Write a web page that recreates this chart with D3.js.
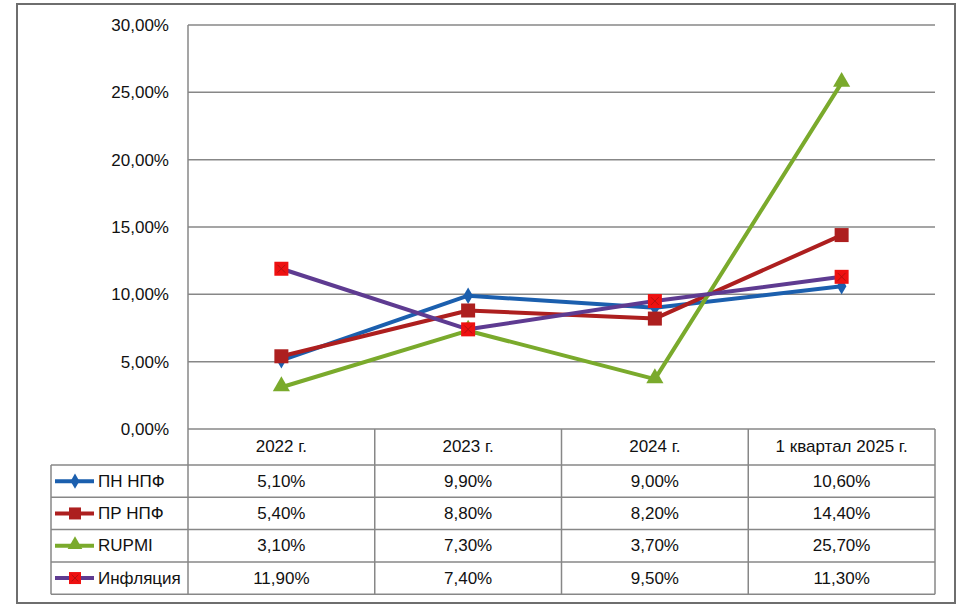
<!DOCTYPE html>
<html>
<head>
<meta charset="utf-8">
<script src="https://cdn.jsdelivr.net/npm/d3@7"></script>
<style>
  html, body { margin: 0; padding: 0; background: #fff; }
  svg { display: block; }
  text { font-family: "Liberation Sans", Arial, sans-serif; fill: #111; }
</style>
</head>
<body>
<svg id="chart" width="973" height="609"></svg>
<script>
const categories = ["2022 г.", "2023 г.", "2024 г.", "1 квартал 2025 г."];
const seriesNames = ["ПН НПФ", "ПР НПФ", "RUPMI", "Инфляция"];
const pnNpf = [5.10, 9.90, 9.00, 10.60];
const prNpf = [5.40, 8.80, 8.20, 14.40];
const rupmi = [3.10, 7.30, 3.70, 25.70];
const inflation = [11.90, 7.40, 9.50, 11.30];
const yTicks = [0, 5, 10, 15, 20, 25, 30];

const series = [
  { name: seriesNames[0], values: pnNpf, line: "#1b5fae", marker: "diamond", fill: "#1b5fae" },
  { name: seriesNames[1], values: prNpf, line: "#ad1f1f", marker: "square", fill: "#ad1f1f" },
  { name: seriesNames[2], values: rupmi, line: "#7aaa2c", marker: "triangle", fill: "#7aaa2c" },
  { name: seriesNames[3], values: inflation, line: "#5e3b91", marker: "xsquare", fill: "#ee1111" }
];

const svg = d3.select("#chart");
const grid = "#878787";
const fmt = v => d3.format(".2f")(v).replace(".", ",") + "%";

// outer frame
svg.append("rect").attr("x", 17).attr("y", 4).attr("width", 938).attr("height", 599)
  .attr("fill", "#fff").attr("stroke", "#6e6e6e").attr("stroke-width", 2);

const pLeft = 188, pRight = 935, pTop = 25, pBottom = 429;
const x = d3.scaleBand().domain(categories).range([pLeft, pRight]);
const y = d3.scaleLinear().domain([0, 30]).range([pBottom, pTop]);

// gridlines
svg.append("g").selectAll("line").data(yTicks).join("line")
  .attr("x1", pLeft).attr("x2", pRight)
  .attr("y1", d => y(d)).attr("y2", d => y(d))
  .attr("stroke", grid).attr("stroke-width", 1.5);

// y axis via d3.axisLeft (labels only)
const yAxis = svg.append("g").attr("transform", `translate(${pLeft},0)`)
  .call(d3.axisLeft(y).tickValues(yTicks).tickFormat(d => fmt(d)).tickSize(0).tickPadding(19));
yAxis.select(".domain").remove();
yAxis.selectAll("text").attr("font-size", 17).attr("fill", "#111")
  .style("font-family", '"Liberation Sans", Arial, sans-serif');

// table geometry
const headerBottom = 465;
const rowH = 32.3;
const tableLeft = 51;
const rowY = i => headerBottom + i * rowH;
const tableBottom = rowY(series.length);

// vertical plot axis line
svg.append("line").attr("x1", pLeft).attr("x2", pLeft).attr("y1", pTop).attr("y2", tableBottom)
  .attr("stroke", grid).attr("stroke-width", 1.5);

// table vertical lines
const colEdges = categories.map(c => x(c) + x.bandwidth());
svg.append("g").selectAll("line").data(colEdges).join("line")
  .attr("x1", d => d).attr("x2", d => d).attr("y1", pBottom).attr("y2", tableBottom)
  .attr("stroke", grid).attr("stroke-width", 1.5);
svg.append("line").attr("x1", tableLeft).attr("x2", tableLeft).attr("y1", headerBottom).attr("y2", tableBottom)
  .attr("stroke", grid).attr("stroke-width", 1.5);

// table horizontal lines
const hLines = d3.range(series.length + 1).map(rowY);
svg.append("g").selectAll("line").data(hLines).join("line")
  .attr("x1", tableLeft).attr("x2", pRight).attr("y1", d => d).attr("y2", d => d)
  .attr("stroke", grid).attr("stroke-width", 1.5);

// header labels
svg.append("g").selectAll("text").data(categories).join("text")
  .attr("x", d => x(d) + x.bandwidth() / 2).attr("y", (pBottom + headerBottom) / 2 + 1)
  .attr("text-anchor", "middle").attr("dominant-baseline", "middle")
  .attr("font-size", 17).text(d => d);

// marker drawing
function drawMarker(g, type, fill, size) {
  if (type === "diamond") {
    g.append("path").attr("d", d3.symbol(d3.symbolDiamond, size * size * 0.55)())
      .attr("fill", fill);
  } else if (type === "triangle") {
    g.append("path").attr("d", d3.symbol(d3.symbolTriangle, size * size * 0.65)())
      .attr("transform", "translate(0,-1)")
      .attr("fill", fill);
  } else {
    g.append("rect").attr("x", -size / 2).attr("y", -size / 2)
      .attr("width", size).attr("height", size).attr("fill", fill);
    if (type === "xsquare") {
      const h = size * 0.28;
      g.append("path").attr("d", `M${-h},${-h}L${h},${h}M${-h},${h}L${h},${-h}`)
        .attr("stroke", "#b31010").attr("stroke-width", 1).attr("fill", "none");
    }
  }
}

// table values + legend keys
series.forEach((s, i) => {
  const cy = rowY(i) + rowH / 2;
  const row = svg.append("g");
  row.selectAll("text").data(s.values).join("text")
    .attr("x", (d, j) => x(categories[j]) + x.bandwidth() / 2).attr("y", cy + 1)
    .attr("text-anchor", "middle").attr("dominant-baseline", "middle")
    .attr("font-size", 17).text(d => fmt(d));
  row.append("line").attr("x1", 55).attr("x2", 94).attr("y1", cy).attr("y2", cy)
    .attr("stroke", s.line).attr("stroke-width", 4);
  const mk = row.append("g").attr("transform", `translate(75,${cy})`);
  drawMarker(mk, s.marker, s.fill, s.marker === "diamond" ? 11 : 12);
  row.append("text").attr("x", 98).attr("y", cy + 1).attr("dominant-baseline", "middle")
    .attr("font-size", 17).text(s.name);
});

// lines
const line = d3.line().x((d, j) => x(categories[j]) + x.bandwidth() / 2).y(d => y(d));
series.forEach(s => {
  svg.append("path").datum(s.values).attr("d", line)
    .attr("fill", "none").attr("stroke", s.line).attr("stroke-width", 4)
    .attr("stroke-linejoin", "round");
});
series.forEach(s => {
  svg.append("g").selectAll("g").data(s.values).join("g")
    .attr("transform", (d, j) => `translate(${x(categories[j]) + x.bandwidth() / 2},${y(d)})`)
    .each(function() { drawMarker(d3.select(this), s.marker, s.fill, s.marker === "diamond" ? 12 : 14); });
});
</script>
</body>
</html>
